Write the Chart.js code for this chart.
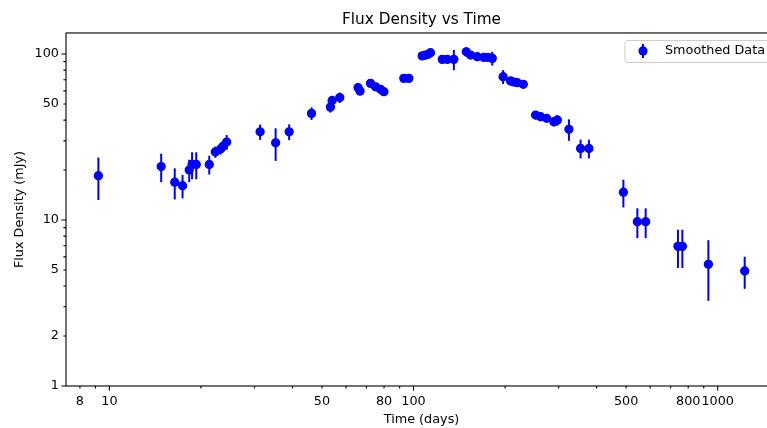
<!DOCTYPE html>
<html>
<head>
<meta charset="utf-8">
<style>
  html, body { margin: 0; padding: 0; background: #fff; overflow: hidden; }
  canvas { display: block; }
</style>
<script src="https://cdn.jsdelivr.net/npm/chart.js@4.4.0/dist/chart.umd.min.js"></script>
</head>
<body>
<canvas id="grafico_fluxo" width="800" height="428"></canvas>
<script>
let ctx = document.getElementById('grafico_fluxo')

// Dados suavizados: tempo (dias), densidade de fluxo (mJy) e erro
const days = [9.2, 14.8, 16.4, 17.4, 18.3, 18.7, 19.3, 21.3, 22.3, 23.2, 23.7, 24.3,
  31.3, 35.2, 39.0, 46.2, 53.3, 54.0, 57.2, 65.7, 66.7, 72.2, 75.0, 77.9, 79.9,
  92.9, 96.5, 106.8, 109.5, 111.5, 113.7, 124.3, 129.1, 135.7, 149.1, 154.0, 162.0,
  170.3, 176.0, 181.5, 197.0, 208.5, 213.8, 219.3, 229.6, 252.0, 261.7, 273.9, 289.4,
  297.0, 324.3, 354.2, 377.3, 489.7, 544.4, 579.7, 740.3, 765.4, 932.0, 1227]
const flux = [18.5, 21.0, 16.9, 16.1, 20.0, 21.6, 21.6, 21.6, 25.7, 26.8, 27.9, 29.5,
  34.0, 29.2, 34.0, 43.9, 47.9, 52.5, 54.7, 62.8, 59.8, 66.6, 63.5, 61.3, 59.3,
  71.4, 71.4, 97.5, 98.6, 99.6, 101.8, 92.9, 92.9, 92.9, 103.2, 98.6, 96.3,
  95.5, 95.5, 94.2, 73.0, 68.8, 67.8, 67.2, 65.7, 42.9, 41.9, 41.0, 39.1,
  40.0, 35.2, 27.0, 27.0, 14.7, 9.77, 9.77, 6.94, 6.94, 5.41, 4.93]
const fluxErr = [5.3, 4.1, 3.6, 2.6, 3.1, 4.0, 4.0, 2.8, 2.0, 2.0, 2.2, 3.0,
  3.6, 6.5, 3.7, 3.8, 3.5, 3.0, 4.0, 3.5, 3.0, 3.0, 2.5, 2.0, 2.0,
  2.5, 2.5, 3.0, 3.0, 3.0, 3.0, 3.0, 3.0, 13.0, 7.0, 4.0, 3.0,
  3.0, 3.0, 9.0, 7.0, 3.0, 3.0, 3.0, 3.0, 2.5, 2.0, 2.0, 2.5,
  3.0, 5.2, 3.5, 3.5, 2.8, 2.0, 2.0, 1.8, 1.8, 2.15, 1.08]

const xTickLabels = [8, 10, 50, 80, 100, 500, 800, 1000]
const yTickLabels = [1, 2, 5, 10, 50, 100]

const blue = '#0000ff'
const fontFamily = "'DejaVu Sans', sans-serif"
const baseSize = 12.8

Chart.defaults.font.family = fontFamily
Chart.defaults.color = '#000'

// ticks 1..9 x 10^n dentro do intervalo do eixo
function logTicks(min, max) {
  const ticks = []
  for (let e = Math.floor(Math.log10(min)); e <= Math.ceil(Math.log10(max)); e++) {
    for (let d = 1; d < 10; d++) {
      const v = d * Math.pow(10, e)
      if (v >= min && v <= max) ticks.push({ value: v })
    }
  }
  return ticks
}

function isDecade(v) {
  const l = Math.log10(v)
  return Math.abs(l - Math.round(l)) < 1e-9
}

// barras de erro verticais, atrás dos marcadores
const errorBars = {
  id: 'errorBars',
  beforeDatasetsDraw(chart) {
    const { ctx, scales: { x, y } } = chart
    ctx.save()
    ctx.beginPath()
    ctx.rect(chart.chartArea.left, chart.chartArea.top, chart.chartArea.width, chart.chartArea.height)
    ctx.clip()
    ctx.strokeStyle = blue
    ctx.lineWidth = 2
    days.forEach((d, i) => {
      const px = x.getPixelForValue(d)
      ctx.beginPath()
      ctx.moveTo(px, y.getPixelForValue(flux[i] - fluxErr[i]))
      ctx.lineTo(px, y.getPixelForValue(flux[i] + fluxErr[i]))
      ctx.stroke()
    })
    ctx.restore()
  }
}

// moldura e marcas dos ticks (maiores nas décadas)
const frame = {
  id: 'frame',
  afterDatasetsDraw(chart) {
    const { ctx, chartArea: a, scales: { x, y } } = chart
    ctx.save()
    ctx.strokeStyle = '#000'
    ctx.lineWidth = 1.1
    ctx.strokeRect(a.left, a.top, a.right - a.left, a.bottom - a.top)
    ctx.beginPath()
    x.ticks.forEach(t => {
      const p = x.getPixelForValue(t.value)
      const len = isDecade(t.value) ? 4.6 : 2.6
      ctx.moveTo(p, a.bottom)
      ctx.lineTo(p, a.bottom + len)
    })
    y.ticks.forEach(t => {
      const p = y.getPixelForValue(t.value)
      const len = isDecade(t.value) ? 4.6 : 2.6
      ctx.moveTo(a.left, p)
      ctx.lineTo(a.left - len, p)
    })
    ctx.stroke()
    ctx.restore()
  }
}

// legenda no canto superior direito
const legendBox = {
  id: 'legendBox',
  afterDraw(chart) {
    const { ctx, chartArea: a } = chart
    const left = a.right - 152
    const top = a.top + 7.5
    ctx.save()
    ctx.beginPath()
    ctx.roundRect(left, top, 145, 22, 3)
    ctx.fillStyle = 'rgba(255,255,255,0.8)'
    ctx.fill()
    ctx.strokeStyle = '#cccccc'
    ctx.lineWidth = 1
    ctx.stroke()
    const mx = a.right - 134
    const my = top + 10.5
    ctx.strokeStyle = blue
    ctx.lineWidth = 2
    ctx.beginPath()
    ctx.moveTo(mx, my - 7)
    ctx.lineTo(mx, my + 7)
    ctx.stroke()
    ctx.fillStyle = blue
    ctx.beginPath()
    ctx.arc(mx, my, 4.6, 0, Math.PI * 2)
    ctx.fill()
    ctx.fillStyle = '#000'
    ctx.font = baseSize + 'px ' + fontFamily
    ctx.textBaseline = 'middle'
    ctx.textAlign = 'left'
    ctx.fillText('Smoothed Data', a.right - 112, my)
    ctx.restore()
  }
}

const data = {
  datasets: [{
    label: 'Smoothed Data',
    data: days.map((d, i) => ({ x: d, y: flux[i] })),
    backgroundColor: blue,
    borderColor: blue,
    borderWidth: 1.3,
    pointRadius: 4,
    pointHoverRadius: 4,
    showLine: false
  }]
}

const config = {
  type: 'scatter',
  data,
  options: {
    responsive: false,
    animation: false,
    devicePixelRatio: 1,
    layout: { padding: { left: 0, right: 23, top: 0, bottom: 0 } },
    plugins: {
      legend: { display: false },
      tooltip: { enabled: false },
      title: {
        display: true,
        text: 'Flux Density vs Time',
        fullSize: false,
        color: '#000',
        font: { size: 15.3, weight: 'normal' },
        padding: { top: 10.8, bottom: 3.8 }
      }
    },
    scales: {
      x: {
        type: 'logarithmic',
        min: 7.2,
        max: 1567,
        grid: { display: false, drawTicks: false },
        border: { display: false },
        afterBuildTicks: scale => { scale.ticks = logTicks(scale.min, scale.max) },
        afterFit: scale => { scale.height = 42 },
        ticks: {
          autoSkip: false,
          maxRotation: 0,
          padding: 8,
          font: { size: baseSize },
          callback: v => xTickLabels.includes(v) ? String(v) : ''
        },
        title: {
          display: true,
          text: 'Time (days)',
          font: { size: baseSize },
          padding: { top: 0, bottom: 0.8 }
        }
      },
      y: {
        type: 'logarithmic',
        min: 1,
        max: 134,
        grid: { display: false, drawTicks: false },
        border: { display: false },
        afterBuildTicks: scale => { scale.ticks = logTicks(scale.min, scale.max) },
        afterFit: scale => { scale.width = 66 },
        ticks: {
          autoSkip: false,
          padding: 7,
          font: { size: baseSize },
          callback: v => yTickLabels.includes(v) ? String(v) : ''
        },
        title: {
          display: true,
          text: 'Flux Density (mJy)',
          font: { size: baseSize },
          padding: { top: 12.3, bottom: 0 }
        }
      }
    }
  },
  plugins: [errorBars, frame, legendBox]
}

const graph = new Chart(ctx, config)
</script>
</body>
</html>
